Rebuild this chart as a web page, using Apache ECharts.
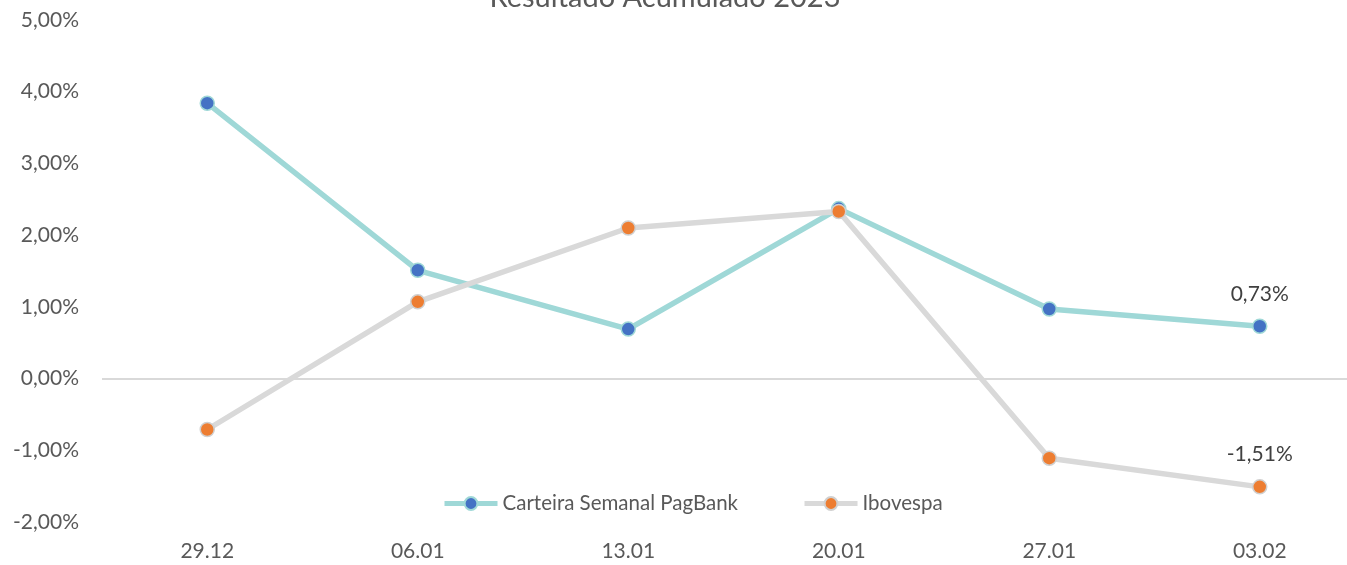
<!DOCTYPE html>
<html>
<head>
<meta charset="utf-8">
<script src="https://cdn.jsdelivr.net/npm/echarts@6/dist/echarts.min.js"></script>
<style>
  html, body { margin: 0; padding: 0; background: #fff; }
  #main { width: 1347px; height: 565px; }
</style>
</head>
<body>
<div id="main"></div>
<script>
// datas semanais
const categories = ['29.12', '06.01', '13.01', '20.01', '27.01', '03.02'];
const carteira = [3.84, 1.51, 0.69, 2.37, 0.97, 0.73];
const ibovespa = [-0.71, 1.07, 2.10, 2.33, -1.11, -1.51];
const yTicks = [-2, -1, 0, 1, 2, 3, 4, 5];

const fmt = v => v.toFixed(2).replace('.', ',') + '%';
const font = 'Lato, "Open Sans", sans-serif';

// so o ultimo ponto tem rotulo
const withLastLabel = arr => arr.map((v, i) => i === arr.length - 1
  ? { value: v, label: { show: true, position: 'top', distance: 14, formatter: p => fmt(p.value),
      fontSize: 21, color: '#404040', fontFamily: font } }
  : v);

var myChart = echarts.init(document.getElementById('main'));

var option = {
  title: {
    text: 'Resultado Acumulado 2023',
    left: 660,
    textAlign: 'center',
    top: -22,
    textStyle: { fontSize: 29, fontWeight: 'normal', color: '#595959', fontFamily: font }
  },
  legend: {
    data: ['Carteira Semanal PagBank', 'Ibovespa'],
    left: 437,
    top: 488,
    itemWidth: 53,
    itemHeight: 16,
    itemGap: 64,
    lineStyle: { width: 5 },
    textStyle: { fontSize: 20.5, color: '#595959', fontFamily: font }
  },
  grid: { left: 102, width: 1263, top: 20, bottom: 43, outerBoundsMode: 'none' },
  xAxis: {
    type: 'category',
    data: categories,
    boundaryGap: true,
    axisLine: { show: false },
    axisTick: { show: false },
    axisLabel: { fontSize: 21, color: '#595959', fontFamily: font, margin: 19 }
  },
  yAxis: {
    type: 'value',
    min: yTicks[0],
    max: yTicks[yTicks.length - 1],
    interval: 1,
    splitLine: { show: false },
    axisLabel: { fontSize: 21, color: '#595959', fontFamily: font, margin: 23, formatter: fmt }
  },
  series: [
    {
      name: 'Carteira Semanal PagBank',
      type: 'line',
      data: withLastLabel(carteira),
      symbol: 'circle',
      symbolSize: 14,
      lineStyle: { width: 5.5, color: '#9FD8D7' },
      itemStyle: { color: '#4472C4', borderColor: '#9FD8D7', borderWidth: 1.5 },
      z: 3,
      markLine: {
        silent: true,
        symbol: 'none',
        label: { show: false },
        lineStyle: { color: '#D9D9D9', width: 2, type: 'solid' },
        data: [{ yAxis: 0 }]
      }
    },
    {
      name: 'Ibovespa',
      type: 'line',
      data: withLastLabel(ibovespa),
      symbol: 'circle',
      symbolSize: 14,
      lineStyle: { width: 5.5, color: '#D9D9D9' },
      itemStyle: { color: '#ED7D31', borderColor: '#D0D0D0', borderWidth: 1.5 },
      z: 4
    }
  ]
};

myChart.setOption(option);
</script>
</body>
</html>
